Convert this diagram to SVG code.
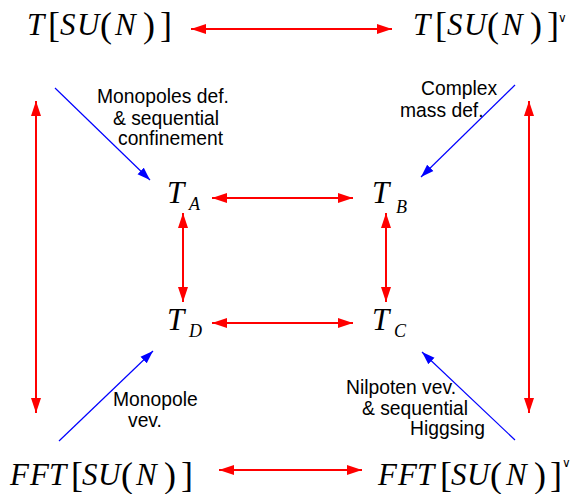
<svg xmlns="http://www.w3.org/2000/svg" width="577" height="494" viewBox="0 0 577 494">
<style>
.m{font-family:"Liberation Serif","Times New Roman",serif;font-style:italic;font-size:31px;fill:#000}
.b{font-family:"Liberation Serif","Times New Roman",serif;font-style:normal;font-size:36px;fill:#000}
.s{font-family:"Liberation Serif","Times New Roman",serif;font-style:italic;font-size:18px;fill:#000}
.v{font-family:"DejaVu Sans",sans-serif;font-size:12px;fill:#000}
.l{font-family:"Liberation Sans",Arial,sans-serif;font-size:19.3px;fill:#000}
.r{stroke:#ff0000;stroke-width:2;fill:none}
.bl{stroke:#0000ff;stroke-width:1.2;fill:none}
</style>
<defs>
<marker id="ra" markerUnits="userSpaceOnUse" markerWidth="16" markerHeight="12" refX="15" refY="6" orient="auto-start-reverse">
<path d="M0,1 L15,6 L0,11 Z" fill="#ff0000"/>
</marker>
<marker id="ba" markerUnits="userSpaceOnUse" markerWidth="14" markerHeight="10" refX="13" refY="5" orient="auto">
<path d="M0,0.5 L13,5 L0,9.5 Z" fill="#0000ff"/>
</marker>
</defs>
<g id="connectors">
<line class="r" x1="191" y1="29" x2="392" y2="29" marker-start="url(#ra)" marker-end="url(#ra)"/>
<line class="r" x1="219" y1="470" x2="362" y2="470" marker-start="url(#ra)" marker-end="url(#ra)"/>
<line class="r" x1="36" y1="101" x2="36" y2="413" marker-start="url(#ra)" marker-end="url(#ra)"/>
<line class="r" x1="529" y1="101" x2="529" y2="413" marker-start="url(#ra)" marker-end="url(#ra)"/>
<line class="r" x1="212" y1="198" x2="353" y2="198" marker-start="url(#ra)" marker-end="url(#ra)"/>
<line class="r" x1="212" y1="323" x2="353" y2="323" marker-start="url(#ra)" marker-end="url(#ra)"/>
<line class="r" x1="183" y1="213" x2="183" y2="302" marker-start="url(#ra)" marker-end="url(#ra)"/>
<line class="r" x1="386" y1="213" x2="386" y2="302" marker-start="url(#ra)" marker-end="url(#ra)"/>
<line class="bl" x1="55" y1="88" x2="150" y2="180" marker-end="url(#ba)"/>
<line class="bl" x1="515" y1="85" x2="421" y2="177" marker-end="url(#ba)"/>
<line class="bl" x1="59" y1="441" x2="153" y2="351" marker-end="url(#ba)"/>
<line class="bl" x1="515" y1="440" x2="422" y2="352" marker-end="url(#ba)"/>
</g>
<g id="labels">
<text class="l" x="97" y="103">Monopoles def.</text>
<text class="l" x="113" y="125">&amp; sequential</text>
<text class="l" x="118" y="145">confinement</text>
<text class="l" x="421" y="95">Complex</text>
<text class="l" x="400" y="117">mass def.</text>
<text class="l" x="113" y="406">Monopole</text>
<text class="l" x="128" y="427">vev.</text>
<text class="l" x="346" y="394">Nilpoten vev.</text>
<text class="l" x="362" y="415">&amp; sequential</text>
<text class="l" x="410" y="435">Higgsing</text>
</g>
<g id="T-SUN">
<text class="m" x="27" y="35">T</text>
<text class="b" x="48" y="37">[</text>
<text class="m" x="60" y="35">S</text>
<text class="m" x="77" y="35">U</text>
<text class="b" x="100" y="37">(</text>
<text class="m" x="115" y="35">N</text>
<text class="b" x="143" y="37">)</text>
<text class="b" x="160" y="37">]</text>
</g>
<g id="T-SUN-dual">
<text class="m" x="413" y="35">T</text>
<text class="b" x="435" y="37">[</text>
<text class="m" x="447" y="35">S</text>
<text class="m" x="464" y="35">U</text>
<text class="b" x="487" y="37">(</text>
<text class="m" x="502" y="35">N</text>
<text class="b" x="530" y="37">)</text>
<text class="b" x="547" y="37">]</text>
<text class="v" x="558" y="22">∨</text>
</g>
<g id="FFT-SUN">
<text class="m" x="10" y="485">F</text>
<text class="m" x="30" y="485">F</text>
<text class="m" x="49" y="485">T</text>
<text class="b" x="71" y="487">[</text>
<text class="m" x="82" y="485">S</text>
<text class="m" x="98" y="485">U</text>
<text class="b" x="121" y="487">(</text>
<text class="m" x="136" y="485">N</text>
<text class="b" x="164" y="487">)</text>
<text class="b" x="181" y="487">]</text>
</g>
<g id="FFT-SUN-dual">
<text class="m" x="378" y="485">F</text>
<text class="m" x="398" y="485">F</text>
<text class="m" x="417" y="485">T</text>
<text class="b" x="440" y="487">[</text>
<text class="m" x="451" y="485">S</text>
<text class="m" x="467" y="485">U</text>
<text class="b" x="490" y="487">(</text>
<text class="m" x="506" y="485">N</text>
<text class="b" x="534" y="487">)</text>
<text class="b" x="550" y="487">]</text>
<text class="v" x="562" y="467">∨</text>
</g>
<g id="TA">
<text class="m" x="167" y="203">T</text>
<text class="s" x="189" y="210">A</text>
</g>
<g id="TB">
<text class="m" x="372" y="203">T</text>
<text class="s" x="396" y="213">B</text>
</g>
<g id="TD">
<text class="m" x="167" y="330">T</text>
<text class="s" x="189" y="337">D</text>
</g>
<g id="TC">
<text class="m" x="372" y="330">T</text>
<text class="s" x="394" y="337">C</text>
</g>
</svg>
